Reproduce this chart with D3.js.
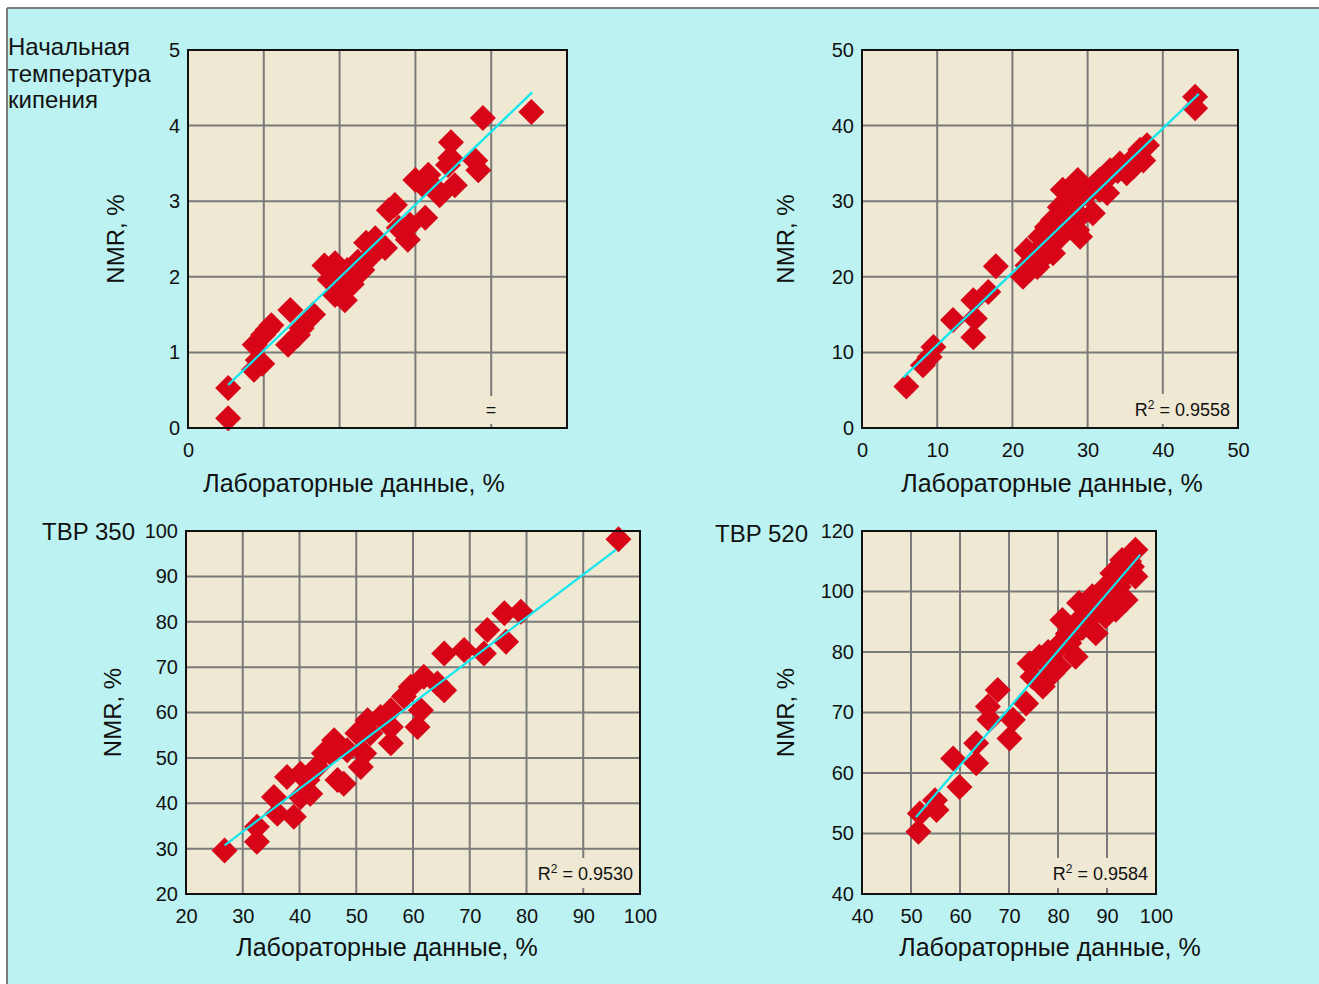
<!DOCTYPE html>
<html>
<head>
<meta charset="utf-8">
<script src="https://cdn.jsdelivr.net/npm/d3@7"></script>
<style>
  body { margin: 0; background: #ffffff; }
  svg { display: block; font-family: "Liberation Sans", Arial, sans-serif; }
</style>
</head>
<body>
<svg id="chart" width="1319" height="984"></svg>
<script>
// ---- данные ----
// Начальная температура кипения
let ibpX = [0.53, 0.53, 0.87, 0.92, 0.98, 0.88, 0.99, 1.05, 1.1, 1.35, 1.32, 1.45, 1.5, 1.65,
  1.8, 1.94, 1.87, 1.94, 2.0, 2.1, 2.24, 2.16, 2.3, 2.35, 2.47, 2.43, 2.65, 2.78, 2.9, 2.86,
  3.0, 3.1, 3.17, 3.22, 3.13, 2.93, 3.32, 3.47, 3.46, 3.43, 3.52, 3.79, 3.83, 3.89, 4.53, 2.73, 2.6, 2.07];
let ibpY = [0.13, 0.53, 0.77, 0.9, 0.85, 1.1, 1.23, 1.3, 1.36, 1.56, 1.1, 1.23, 1.32, 1.5,
  2.15, 2.18, 1.96, 1.76, 1.93, 2.09, 2.2, 1.9, 2.09, 2.45, 2.51, 2.29, 2.88, 2.65, 2.49, 2.62,
  3.28, 3.21, 3.35, 3.21, 2.78, 2.69, 3.08, 3.78, 3.57, 3.48, 3.21, 3.54, 3.41, 4.1, 4.18, 2.95, 2.38, 1.69];
let ibpTrendX = [0.53, 4.54];
let ibpTrendY = [0.57, 4.44];

// вторая панель
let p2X = [5.9, 8.1, 9.5, 9.0, 12.1, 14.8, 15.0, 14.8, 16.8, 17.8, 21.4, 22.3, 21.9,
  23.7, 24.6, 25.4, 26.3, 27.3, 24.6, 26.3, 28.6, 28.1, 30.7, 29.9, 30.7, 31.6, 33.0, 34.3,
  35.2, 36.0, 37.0, 37.9, 37.4, 31.6, 32.6, 27.3, 25.9, 22.7, 23.3, 29.0, 25.4, 26.7, 28.7, 44.3, 44.3,
  24, 25, 26, 27, 28, 29, 30, 31, 32, 33, 34, 35, 36, 25, 26, 27, 28, 29, 23, 24, 22];
let p2Y = [5.5, 8.3, 10.7, 9.4, 14.3, 12.0, 14.5, 16.9, 18.0, 21.4, 20.0, 20.9, 23.5,
  25.3, 26.6, 27.5, 29.2, 30.2, 24.0, 25.3, 26.2, 27.5, 28.4, 31.1, 31.9, 32.8, 34.1, 35.0,
  33.7, 34.5, 36.8, 37.4, 35.4, 31.5, 31.1, 27.5, 24.9, 22.2, 21.3, 25.3, 23.1, 31.5, 32.8, 43.8, 42.3,
  25, 26, 27.5, 28.5, 29.5, 30.5, 31, 32, 33, 33.5, 34, 34.5, 35.5, 24, 25, 26.5, 27.5, 28, 23, 22.5, 21.5];
let p2TrendX = [5.5, 44.8];
let p2TrendY = [6.7, 44.2];

// TBP 350
let tbp350X = [26.8, 32.5, 32.5, 35.5, 36.1, 39.0, 37.8, 40.2, 41.9, 41.4, 43.1, 45.5, 46.1,
  46.7, 47.8, 50.8, 51.4, 50.2, 52.0, 54.3, 56.1, 52.5, 56.1, 60.8, 61.4, 59.6, 61.9, 64.3,
  65.5, 65.5, 69.0, 72.5, 73.1, 76.1, 79.0, 76.4, 96.2, 58.4, 48.4, 44.3, 40.2, 56.1];
let tbp350Y = [29.6, 31.5, 34.8, 41.4, 37.7, 37.0, 45.8, 41.4, 42.1, 45.1, 48.0, 51.0, 53.9,
  45.1, 44.3, 48.0, 51.0, 55.4, 58.3, 59.0, 53.2, 55.4, 56.8, 56.8, 60.5, 65.7, 67.9, 66.4,
  64.9, 73.0, 73.8, 73.0, 78.2, 81.9, 82.2, 75.6, 98.2, 63.5, 51.7, 51.0, 46.5, 60.5];
let tbp350TrendX = [26.8, 95.8];
let tbp350TrendY = [30.7, 95.9];

// TBP 520 (значения по подписям шкалы)
let tbp520X = [51.5, 51.8, 54.9, 55.2, 59.9, 58.6, 63.3, 63.3, 66.0, 65.7, 67.7, 70.1, 70.8,
  73.5, 74.2, 74.8, 76.9, 78.9, 80.2, 77.5, 76.2, 79.6, 82.3, 83.6, 80.9, 84.3, 87.0, 85.7,
  87.7, 89.7, 91.1, 92.4, 91.1, 93.1, 95.8, 95.1, 95.8, 93.8, 91.8, 84.3, 82.5, 86.0, 88.5, 90.0, 93.0, 94.5, 89.0,
  82, 84, 86, 88, 90, 92, 85, 87, 89, 91, 93, 94, 78, 80, 79];
let tbp520Y = [50.3, 53.3, 55.5, 53.9, 57.7, 62.4, 61.6, 64.9, 68.8, 71.0, 73.7, 65.7, 68.8,
  71.5, 78.1, 75.9, 74.3, 76.5, 77.6, 78.1, 79.2, 80.6, 83.0, 79.2, 90.6, 96.2, 98.4, 89.6,
  86.2, 91.8, 96.2, 101.6, 106.0, 110.4, 113.8, 108.2, 105.0, 97.2, 94.0, 87.4, 85.0, 92.0, 97.0, 100.0, 104.0, 110.0, 94.0,
  86, 90, 94, 98, 102, 104, 88, 92, 96, 100, 106, 108, 80, 82, 77];
let tbp520TrendX = [51.0, 96.8];
let tbp520TrendY = [52.7, 112.2];

// шкалы и подписи
let ibpXTicks = [0];
let ibpXGrid = [1, 2, 3, 4];
let ibpYTicks = [0, 1, 2, 3, 4, 5];
let p2Ticks = [0, 10, 20, 30, 40, 50];
let tbp350Ticks = [20, 30, 40, 50, 60, 70, 80, 90, 100];
let tbp520XTicks = [40, 50, 60, 70, 80, 90, 100];
let tbp520YTicks = [40, 50, 60, 70, 80, 100, 120];

let panels = [
  { xs: ibpX, ys: ibpY, tx: ibpTrendX, ty: ibpTrendY,
    left: 188, right: 567, top: 50, bottom: 428,
    xDom: [0, 5], yDom: ibpYTicks, xTicks: ibpXTicks, xGrid: ibpXGrid, yTicks: ibpYTicks,
    r2: "=", r2x: 491, r2y: 416, title: ["Начальная", "температура", "кипения"],
    titleX: 8, titleY: 55, titleAnchor: "start", nmrX: 116, labX: 354, labY: 492 },
  { xs: p2X, ys: p2Y, tx: p2TrendX, ty: p2TrendY,
    left: 862, right: 1238, top: 50, bottom: 428,
    xDom: [0, 50], yDom: p2Ticks, xTicks: p2Ticks, xGrid: p2Ticks, yTicks: p2Ticks,
    r2: "0.9558", r2x: 1230, r2y: 416, title: [], nmrX: 786, labX: 1052, labY: 492 },
  { xs: tbp350X, ys: tbp350Y, tx: tbp350TrendX, ty: tbp350TrendY,
    left: 186, right: 640, top: 531, bottom: 894,
    xDom: [20, 100], yDom: tbp350Ticks, xTicks: tbp350Ticks, xGrid: tbp350Ticks, yTicks: tbp350Ticks,
    r2: "0.9530", r2x: 633, r2y: 880, title: ["TBP 350"],
    titleX: 135, titleY: 540, titleAnchor: "end", nmrX: 113, labX: 387, labY: 956 },
  { xs: tbp520X, ys: tbp520Y, tx: tbp520TrendX, ty: tbp520TrendY,
    left: 862, right: 1156, top: 531, bottom: 894,
    xDom: [40, 100], yDom: tbp520YTicks, xTicks: tbp520XTicks, xGrid: tbp520XTicks, yTicks: tbp520YTicks,
    r2: "0.9584", r2x: 1148, r2y: 880, title: ["TBP 520"],
    titleX: 808, titleY: 542, titleAnchor: "end", nmrX: 786, labX: 1050, labY: 956 }
];

let svg = d3.select("#chart");

// фон и рамка
svg.append("rect").attr("x", 7).attr("y", 8).attr("width", 1312).attr("height", 976).attr("fill", "#bcf3f2");
svg.append("line").attr("x1", 7).attr("y1", 8).attr("x2", 1319).attr("y2", 8)
  .attr("stroke", "#7d7d7d").attr("stroke-width", 2);
svg.append("line").attr("x1", 7).attr("y1", 8).attr("x2", 7).attr("y2", 984)
  .attr("stroke", "#7d7d7d").attr("stroke-width", 2);

let diamond = "M0,-13L13,0L0,13L-13,0Z";

panels.forEach(function(p) {
  let x = d3.scaleLinear().domain(p.xDom).range([p.left, p.right]);
  // для TBP 520 шкала кусочно-линейная по подписям
  let yRange = p.yDom.map((d, i) => p.bottom - i * (p.bottom - p.top) / (p.yDom.length - 1));
  let y = d3.scaleLinear().domain(p.yDom).range(yRange);

  let g = svg.append("g");
  g.append("rect")
    .attr("x", p.left).attr("y", p.top)
    .attr("width", p.right - p.left).attr("height", p.bottom - p.top)
    .attr("fill", "#efe8d2");

  // сетка
  g.selectAll(".gx").data(p.xGrid).enter().append("line")
    .attr("x1", d => x(d)).attr("x2", d => x(d))
    .attr("y1", p.top).attr("y2", p.bottom)
    .attr("stroke", "#7a7a7a").attr("stroke-width", 2);
  g.selectAll(".gy").data(p.yTicks).enter().append("line")
    .attr("x1", p.left).attr("x2", p.right)
    .attr("y1", d => y(d)).attr("y2", d => y(d))
    .attr("stroke", "#7a7a7a").attr("stroke-width", 2);

  // подпись R²
  let lab = g.append("text")
    .attr("x", p.r2x).attr("y", p.r2y)
    .attr("text-anchor", "end")
    .style("font-size", "18px").attr("fill", "#111");
  if (p.r2 === "=") {
    lab.attr("text-anchor", "middle").text("=");
  } else {
    lab.append("tspan").text("R");
    lab.append("tspan").attr("dy", -7).style("font-size", "12px").text("2");
    lab.append("tspan").attr("dy", 7).text(" = " + p.r2);
  }
  let bb = lab.node().getBBox();
  g.insert("rect", "text")
    .attr("x", bb.x - 2).attr("y", bb.y - 4)
    .attr("width", bb.width + 4).attr("height", bb.height + 8)
    .attr("fill", "#efe8d2");

  // точки
  let pts = p.xs.map((d, i) => [d, p.ys[i]]);
  g.selectAll(".pt").data(pts).enter().append("path")
    .attr("d", diamond)
    .attr("transform", d => `translate(${x(d[0])},${y(d[1])})`)
    .attr("fill", "#d70517");

  // линия тренда
  g.append("path")
    .datum(p.tx.map((d, i) => [d, p.ty[i]]))
    .attr("d", d3.line().x(d => x(d[0])).y(d => y(d[1])))
    .attr("stroke", "#10e6ee").attr("stroke-width", 2.2).attr("fill", "none");

  // рамка области
  g.append("rect")
    .attr("x", p.left).attr("y", p.top)
    .attr("width", p.right - p.left).attr("height", p.bottom - p.top)
    .attr("fill", "none").attr("stroke", "#111").attr("stroke-width", 2);

  // оси
  let ax = g.append("g").attr("transform", `translate(0,${p.bottom})`)
    .call(d3.axisBottom(x).tickValues(p.xTicks).tickFormat(d3.format("d")).tickSize(0).tickPadding(15));
  ax.select(".domain").remove();
  let ay = g.append("g").attr("transform", `translate(${p.left},0)`)
    .call(d3.axisLeft(y).tickValues(p.yTicks).tickFormat(d3.format("d")).tickSize(0).tickPadding(8));
  ay.select(".domain").remove();
  g.selectAll(".tick text").attr("fill", "#111").style("font-size", "20px")
    .style("font-family", "'Liberation Sans', Arial, sans-serif");

  // заголовки осей
  g.append("text")
    .attr("transform", `translate(${p.nmrX},${(p.top + p.bottom) / 2}) rotate(-90)`)
    .attr("text-anchor", "middle").attr("dy", "0.35em")
    .style("font-size", "24px").attr("fill", "#111")
    .text("NMR, %");
  g.append("text")
    .attr("x", p.labX).attr("y", p.labY)
    .attr("text-anchor", "middle")
    .style("font-size", "25px").attr("fill", "#111")
    .text("Лабораторные данные, %");

  // название панели
  p.title.forEach(function(t, i) {
    g.append("text")
      .attr("x", p.titleX).attr("y", p.titleY + i * 26.5)
      .attr("text-anchor", p.titleAnchor)
      .style("font-size", "24px").attr("fill", "#111")
      .text(t);
  });
});
</script>
</body>
</html>
